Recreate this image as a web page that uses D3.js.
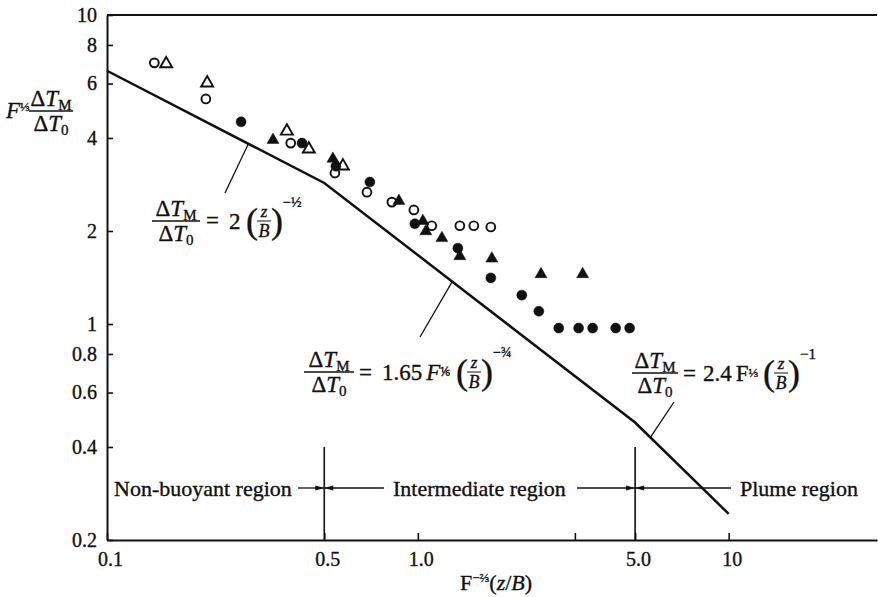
<!DOCTYPE html>
<html>
<head>
<meta charset="utf-8">
<script src="https://cdn.jsdelivr.net/npm/d3@7"></script>
<style>
  body { margin: 0; background: #fff; }
  svg text { font-family: "Liberation Serif", "Times New Roman", serif; fill: #111; stroke: #111; stroke-width: 0.35; }
</style>
</head>
<body>
<svg id="chart" width="878" height="597"></svg>
<script>
// values
var openCircleX = [0.142, 0.208, 0.39, 0.541, 0.686, 0.825, 0.971, 1.109, 1.365, 1.514, 1.717];
var openCircleY = [7.0, 5.35, 3.85, 3.08, 2.67, 2.48, 2.34, 2.08, 2.08, 2.08, 2.06];

var openTriX = [0.155, 0.21, 0.379, 0.446, 0.574];
var openTriY = [7.0, 6.07, 4.24, 3.71, 3.27];

var fillCircleX = [0.27, 0.424, 0.545, 0.701, 0.978, 1.345, 1.717, 2.16, 2.45, 2.84, 3.29, 3.65, 4.33, 4.8];
var fillCircleY = [4.51, 3.85, 3.24, 2.88, 2.11, 1.76, 1.41, 1.24, 1.10, 0.97, 0.97, 0.97, 0.97, 0.97];

var fillTriX = [0.342, 0.533, 0.869, 1.038, 1.061, 1.195, 1.365, 1.73, 2.49, 3.39];
var fillTriY = [3.97, 3.45, 2.52, 2.17, 2.01, 1.91, 1.67, 1.64, 1.46, 1.46];

// piecewise correlation line
var curveX = [0.1, 0.5, 5.0, 10];
var curveY = [6.6, 2.86, 0.48, 0.243];

var yTicks = [0.2, 0.4, 0.6, 0.8, 1, 2, 4, 6, 8, 10];
var yTickLabels = ['0.2', '0.4', '0.6', '0.8', '1', '2', '4', '6', '8', '10'];
var xTicks = [0.1, 0.5, 1, 5, 10];
var xTickLabels = ['0.1', '0.5', '1.0', '5.0', '10'];
var xMinorTicks = [3.2];
var regionBounds = [0.5, 5.0];

var svg = d3.select('#chart');
var x = d3.scaleLog().domain([0.1, 30]).range([107, 877]);
var y = d3.scaleLog().domain([0.2, 10]).range([540, 15]);

function zip(a, b){
  var out = [];
  for(var i = 0; i < a.length; i++){ out.push([a[i], b[i]]); }
  return out;
}

// y on the line at a given x (log-log interpolation)
function curveAt(v){
  for(var i = 0; i < curveX.length - 1; i++){
    if(v <= curveX[i+1]){
      var t = (Math.log(v) - Math.log(curveX[i])) / (Math.log(curveX[i+1]) - Math.log(curveX[i]));
      return Math.exp(Math.log(curveY[i]) + t * (Math.log(curveY[i+1]) - Math.log(curveY[i])));
    }
  }
  return curveY[curveY.length - 1];
}

// axes
var yAxis = d3.axisLeft(y)
  .tickValues(yTicks)
  .tickFormat(function(d, i){ return yTickLabels[i]; })
  .tickSizeInner(-6).tickSizeOuter(0).tickPadding(10);
var gy = svg.append('g').attr('transform', 'translate(107,0)').call(yAxis);

var xAxis = d3.axisBottom(x)
  .tickValues(xTicks.concat(xMinorTicks))
  .tickFormat(function(d){ var i = xTicks.indexOf(d); return i < 0 ? '' : xTickLabels[i]; })
  .tickSizeInner(-7).tickSizeOuter(0).tickPadding(12);
var gx = svg.append('g').attr('transform', 'translate(0,540)').call(xAxis);

[gx, gy].forEach(function(g){
  g.attr('font-family', null).attr('font-size', null);
  g.selectAll('path.domain').attr('stroke', '#111').attr('stroke-width', 2);
  g.selectAll('.tick line').attr('stroke', '#111').attr('stroke-width', 1.6);
  g.selectAll('.tick text').attr('font-size', 20).attr('fill', '#111');
});
gx.selectAll('.tick text').attr('dx', 3);

// top frame line
svg.append('line')
  .attr('x1', x(0.1)).attr('x2', x(30))
  .attr('y1', y(10)).attr('y2', y(10))
  .attr('stroke', '#111').attr('stroke-width', 2);

// region boundaries
svg.selectAll('.bound').data(regionBounds).enter().append('line')
  .attr('class', 'bound')
  .attr('x1', function(d){ return x(d); }).attr('x2', function(d){ return x(d); })
  .attr('y1', 447).attr('y2', 540)
  .attr('stroke', '#111').attr('stroke-width', 1.6);

// correlation line
var line = d3.line()
  .x(function(d){ return x(d[0]); })
  .y(function(d){ return y(d[1]); });
svg.append('path')
  .datum(zip(curveX, curveY))
  .attr('d', line)
  .attr('fill', 'none')
  .attr('stroke', '#111')
  .attr('stroke-width', 2.5);

// markers
var tri = d3.symbol().type(d3.symbolTriangle).size(62);
function plotCircles(xs, ys, filled){
  svg.append('g').selectAll('circle').data(zip(xs, ys)).enter().append('circle')
    .attr('cx', function(d){ return x(d[0]); })
    .attr('cy', function(d){ return y(d[1]); })
    .attr('r', filled ? 5 : 4.4)
    .attr('fill', filled ? '#111' : '#fff')
    .attr('stroke', '#111')
    .attr('stroke-width', filled ? 0.5 : 1.9);
}
function plotTriangles(xs, ys, filled){
  svg.append('g').selectAll('path').data(zip(xs, ys)).enter().append('path')
    .attr('d', tri)
    .attr('transform', function(d){ return 'translate(' + x(d[0]) + ',' + (y(d[1]) + 1) + ')'; })
    .attr('fill', filled ? '#111' : '#fff')
    .attr('stroke', '#111')
    .attr('stroke-width', filled ? 0.5 : 1.9);
}
plotCircles(openCircleX, openCircleY, false);
plotTriangles(openTriX, openTriY, false);
plotCircles(fillCircleX, fillCircleY, true);
plotTriangles(fillTriX, fillTriY, true);

// text helpers
function txt(px, py, parts, size, anchor){
  var t = svg.append('text').attr('x', px).attr('y', py)
    .attr('font-size', size).attr('text-anchor', anchor || 'start');
  parts.forEach(function(p){
    var s = t.append('tspan').text(p.s);
    if(p.i) s.attr('font-style', 'italic');
    if(p.fs) s.attr('font-size', p.fs);
    if(p.dy) s.attr('dy', p.dy);
    if(p.dx) s.attr('dx', p.dx);
  });
  return t;
}

function deltaFrac(x0, yBar, w){
  txt(x0 + w / 2, yBar - 5, [{s: '\u0394'}, {s: 'T', i: 1}, {s: 'M', fs: 15, dy: 4}], 23, 'middle');
  txt(x0 + w / 2, yBar + 20, [{s: '\u0394'}, {s: 'T', i: 1}, {s: '0', fs: 15, dy: 4}], 23, 'middle');
  svg.append('line').attr('x1', x0).attr('x2', x0 + w).attr('y1', yBar).attr('y2', yBar)
    .attr('stroke', '#111').attr('stroke-width', 1.4);
}

function zOverB(px, yBar){
  txt(px + 7, yBar - 4, [{s: 'z', i: 1}], 17, 'middle');
  txt(px + 7, yBar + 16, [{s: 'B', i: 1}], 18, 'middle');
  svg.append('line').attr('x1', px).attr('x2', px + 14).attr('y1', yBar).attr('y2', yBar)
    .attr('stroke', '#111').attr('stroke-width', 1);
  txt(px - 11, yBar + 12, [{s: '('}], 36);
  txt(px + 14, yBar + 12, [{s: ')'}], 36);
}

// equation 1 : non-buoyant
deltaFrac(152, 221, 48);
txt(206, 228, [{s: '='}], 23);
txt(229, 229, [{s: '2'}], 23);
zOverB(257, 221);
txt(283, 207, [{s: '\u2212\u00bd'}], 14);

// equation 2 : intermediate
deltaFrac(304, 372, 50);
txt(359, 380, [{s: '='}], 23);
txt(382, 380, [{s: '1.65'}, {s: 'F', i: 1, dx: 4}, {s: '\u2159', fs: 13, dy: -4}], 23);
zOverB(467, 372);
txt(493, 357, [{s: '\u2212\u00be'}], 14);

// equation 3 : plume
deltaFrac(632, 373, 46);
txt(683, 381, [{s: '='}], 23);
txt(703, 381, [{s: '2.4'}, {s: 'F', dx: 4}, {s: '\u2153', fs: 13, dy: -4}], 23);
zOverB(774, 373);
txt(800, 359, [{s: '\u22121'}], 15);

// leader lines from equations to the line
var leaders = [
  {from: [225, 193], at: 0.285},
  {from: [420, 337], at: 1.29},
  {from: [674, 402], at: 5.6}
];
svg.selectAll('.leader').data(leaders).enter().append('line')
  .attr('class', 'leader')
  .attr('x1', function(d){ return d.from[0]; })
  .attr('y1', function(d){ return d.from[1]; })
  .attr('x2', function(d){ return x(d.at); })
  .attr('y2', function(d){ return y(curveAt(d.at)); })
  .attr('stroke', '#111').attr('stroke-width', 1.3);

// region labels with arrows
var arrowY = 488;
function arrow(xFrom, xTo){
  svg.append('line').attr('x1', xFrom).attr('x2', xTo).attr('y1', arrowY).attr('y2', arrowY)
    .attr('stroke', '#111').attr('stroke-width', 1.3);
  var dir = xTo > xFrom ? -1 : 1;
  svg.append('path')
    .attr('d', 'M' + xTo + ',' + arrowY + 'l' + (dir * 9) + ',-2.5l0,5z')
    .attr('fill', '#111');
}
txt(114, 496, [{s: 'Non-buoyant region'}], 22);
arrow(298, x(regionBounds[0]));
arrow(384, x(regionBounds[0]));
txt(393, 496, [{s: 'Intermediate region'}], 22);
arrow(577, x(regionBounds[1]));
arrow(731, x(regionBounds[1]));
txt(740, 496, [{s: 'Plume region'}], 22);

// axis titles
txt(460, 590, [{s: 'F'}, {s: '\u2212\u2154', fs: 13, dy: -8}, {s: '(', dy: 8}, {s: 'z', i: 1}, {s: '/'}, {s: 'B', i: 1}, {s: ')'}], 22);
txt(6, 118, [{s: 'F', i: 1}, {s: '\u2153', fs: 13, dy: -7}], 23);
deltaFrac(29, 111, 44);
</script>
</body>
</html>
